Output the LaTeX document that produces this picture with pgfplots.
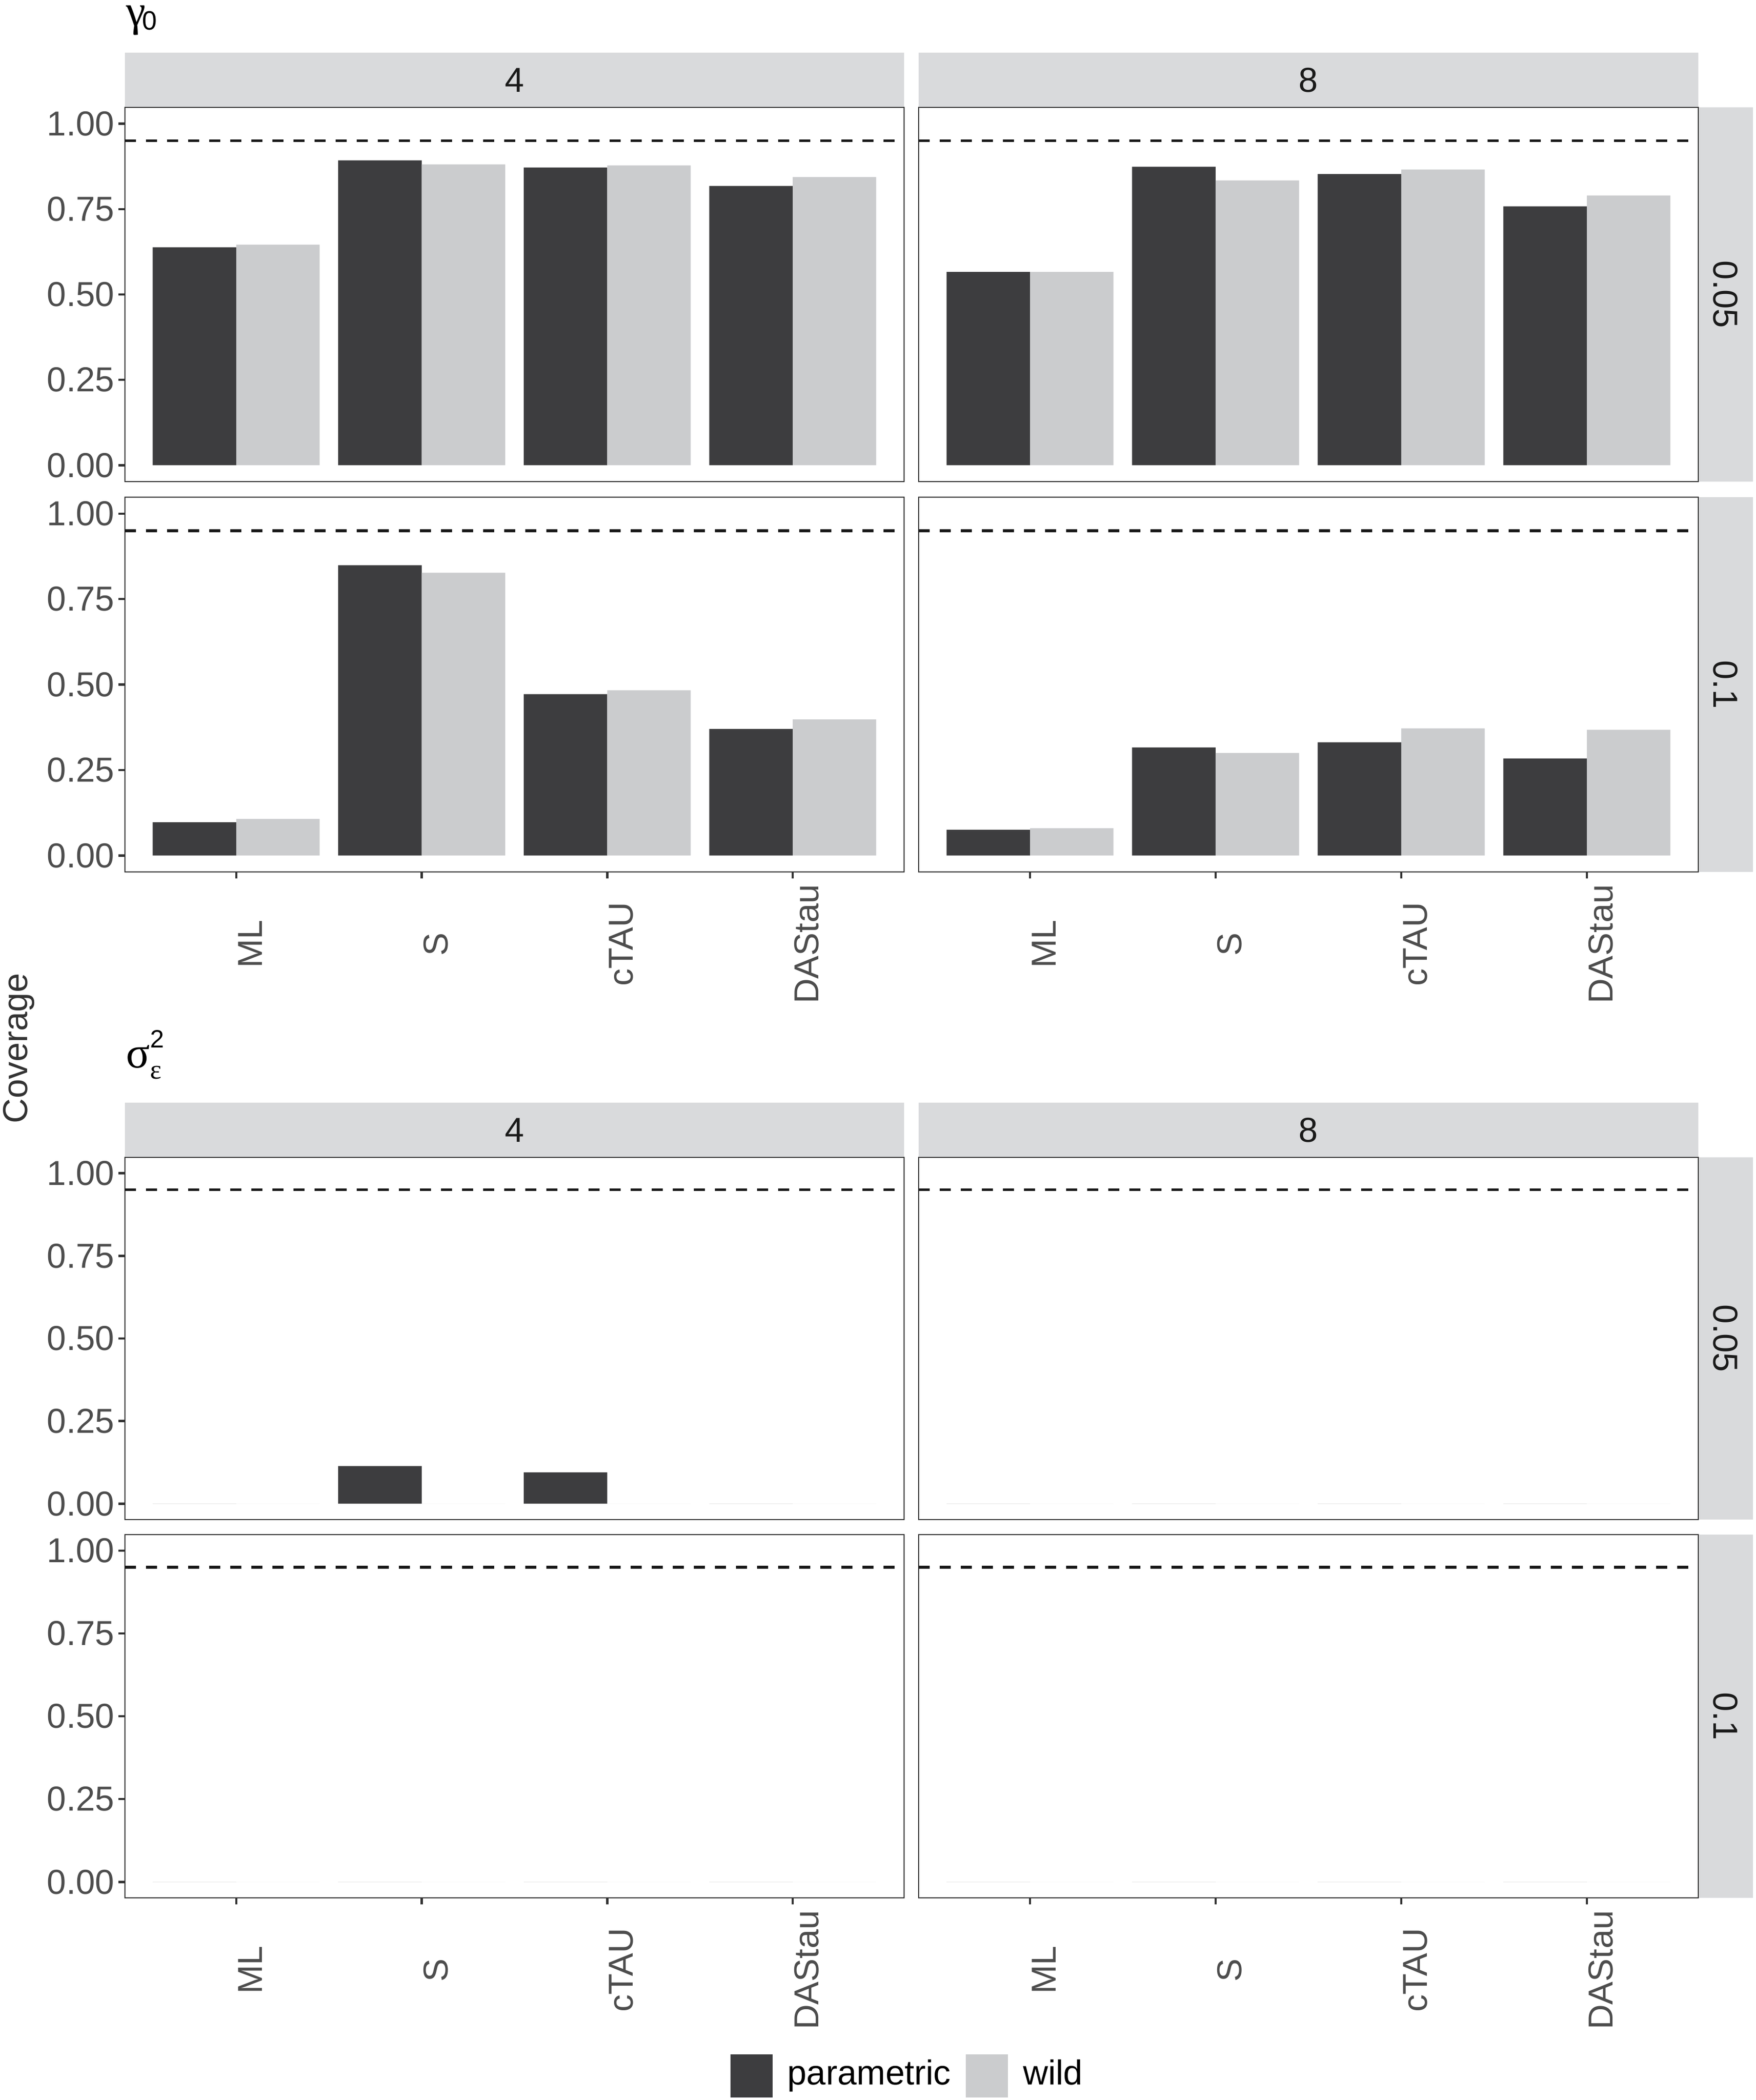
\documentclass[border=0pt]{standalone}
\usepackage{fontspec}
\setmainfont{Liberation Sans}
\newfontfamily\serifgreek{Liberation Serif}
\usepackage{pgfplots}
\pgfplotsset{compat=1.18}

\definecolor{dark}{RGB}{61,61,63}
\definecolor{light}{RGB}{203,204,206}
\definecolor{stripfill}{RGB}{217,218,220}
\definecolor{border}{RGB}{51,51,51}
\definecolor{ticklab}{RGB}{77,77,77}
\definecolor{striptext}{RGB}{26,26,26}

\newcommand\lf{\fontsize{6.9pt}{8pt}\selectfont}

\pgfplotsset{
  panel/.style={
    scale only axis, anchor=north west,
    xmin=0.4, xmax=4.6, ymin=-0.048, ymax=1.048,
    axis line style={draw=border, line width=0.25pt},
    tick align=outside, major tick length=1.3pt,
    tick style={draw=border, line width=0.45pt},
    xtick=\empty, ytick=\empty,
    clip=false,
  },
  leftcol/.style={
    ytick={0,0.25,0.5,0.75,1}, ytick pos=left,
    yticklabel style={anchor=east, inner sep=0pt, xshift=-0.6pt, font=\lf, text=ticklab},
    yticklabel={\pgfmathprintnumber[fixed,fixed zerofill,precision=2,assume math mode=true]{\tick}},
  },
  bottomrow/.style={
    xtick={1,2,3,4}, xtick pos=bottom, xticklabels={{},{},{},{}},
  },
  bars/.style={ybar, bar width=0.45, draw=none},
  refline/.style={black!90, line width=0.55pt, dash pattern=on 2.2pt off 2pt},
}
\tikzset{
  xlab/.style={font=\lf, text=ticklab, inner sep=0pt, yshift=-14.4pt, rotate=90,
    anchor=north, text height=4.95pt, text depth=0pt},
  striplab/.style={font=\lf, text=striptext, inner sep=0pt, anchor=center},
}

\begin{document}
\begin{tikzpicture}
\useasboundingbox (0,0) rectangle (350pt,-418.6pt);

% strips
\fill[stripfill] (24.9pt,-10.5pt) rectangle (180.2pt,-21.4pt);
\fill[stripfill] (183.1pt,-10.5pt) rectangle (338.5pt,-21.4pt);
\fill[stripfill] (24.9pt,-219.8pt) rectangle (180.2pt,-230.7pt);
\fill[stripfill] (183.1pt,-219.8pt) rectangle (338.5pt,-230.7pt);
\fill[stripfill] (338.6pt,-21.4pt) rectangle (349.4pt,-96.0pt);
\fill[stripfill] (338.6pt,-99.1pt) rectangle (349.4pt,-173.8pt);
\fill[stripfill] (338.6pt,-230.7pt) rectangle (349.4pt,-302.9pt);
\fill[stripfill] (338.6pt,-305.9pt) rectangle (349.4pt,-378.3pt);

\node[striplab] at (102.55pt,-15.95pt) {4};
\node[striplab] at (260.8pt,-15.95pt) {8};
\node[striplab] at (102.55pt,-225.25pt) {4};
\node[striplab] at (260.8pt,-225.25pt) {8};
\node[striplab, rotate=-90] at (343.9pt,-58.7pt) {0.05};
\node[striplab, rotate=-90] at (343.9pt,-136.45pt) {0.1};
\node[striplab, rotate=-90] at (343.9pt,-266.8pt) {0.05};
\node[striplab, rotate=-90] at (343.9pt,-342.1pt) {0.1};

% titles
\node[anchor=base west, inner sep=0pt, font=\serifgreek\fontsize{8.8pt}{10pt}\selectfont, text=black] at (24.9pt,-5.1pt) {γ};
\node[anchor=base west, inner sep=0pt, font=\fontsize{5.3pt}{6pt}\selectfont, text=black] at (28.2pt,-5.9pt) {0};
\node[anchor=base west, inner sep=0pt, font=\serifgreek\fontsize{8.8pt}{10pt}\selectfont, text=black] at (25.0pt,-212.8pt) {σ};
\node[anchor=base west, inner sep=0pt, font=\fontsize{5.0pt}{6pt}\selectfont, text=black] at (29.7pt,-208.8pt) {2};
\node[anchor=base west, inner sep=0pt, font=\serifgreek\fontsize{5.4pt}{6pt}\selectfont, text=black] at (29.7pt,-215.0pt) {ε};
\node[rotate=90, anchor=base, inner sep=0pt, font=\lf, text=black!80] at (5.4pt,-209pt) {Coverage};

% ---------- gamma_0 ----------
\begin{axis}[panel, leftcol, at={(24.9pt,-21.4pt)}, width=155.3pt, height=74.6pt]
\addplot[bars, bar shift=-0.225, fill=dark] coordinates {(1,0.638) (2,0.893) (3,0.872) (4,0.818)};
\addplot[bars, bar shift=0.225, fill=light] coordinates {(1,0.646) (2,0.881) (3,0.878) (4,0.844)};
\addplot[refline] coordinates {(0.4,0.95) (4.6,0.95)};
\end{axis}

\begin{axis}[panel, at={(183.1pt,-21.4pt)}, width=155.4pt, height=74.6pt]
\addplot[bars, bar shift=-0.225, fill=dark] coordinates {(1,0.566) (2,0.874) (3,0.853) (4,0.758)};
\addplot[bars, bar shift=0.225, fill=light] coordinates {(1,0.566) (2,0.834) (3,0.866) (4,0.790)};
\addplot[refline] coordinates {(0.4,0.95) (4.6,0.95)};
\end{axis}

\begin{axis}[panel, leftcol, bottomrow, at={(24.9pt,-99.1pt)}, width=155.3pt, height=74.7pt]
\addplot[bars, bar shift=-0.225, fill=dark] coordinates {(1,0.097) (2,0.849) (3,0.472) (4,0.370)};
\addplot[bars, bar shift=0.225, fill=light] coordinates {(1,0.107) (2,0.827) (3,0.483) (4,0.398)};
\addplot[refline] coordinates {(0.4,0.95) (4.6,0.95)};
\node[xlab] at (axis cs:1,-0.048) {ML};
\node[xlab] at (axis cs:2,-0.048) {S};
\node[xlab] at (axis cs:3,-0.048) {cTAU};
\node[xlab] at (axis cs:4,-0.048) {DAStau};
\end{axis}

\begin{axis}[panel, bottomrow, at={(183.1pt,-99.1pt)}, width=155.4pt, height=74.7pt]
\addplot[bars, bar shift=-0.225, fill=dark] coordinates {(1,0.075) (2,0.316) (3,0.331) (4,0.284)};
\addplot[bars, bar shift=0.225, fill=light] coordinates {(1,0.080) (2,0.300) (3,0.372) (4,0.368)};
\addplot[refline] coordinates {(0.4,0.95) (4.6,0.95)};
\node[xlab] at (axis cs:1,-0.048) {ML};
\node[xlab] at (axis cs:2,-0.048) {S};
\node[xlab] at (axis cs:3,-0.048) {cTAU};
\node[xlab] at (axis cs:4,-0.048) {DAStau};
\end{axis}

% ---------- sigma_eps^2 ----------
\begin{axis}[panel, leftcol, at={(24.9pt,-230.7pt)}, width=155.3pt, height=72.2pt]
\addplot[bars, bar shift=-0.225, fill=dark] coordinates {(1,0) (2,0.114) (3,0.095) (4,0)};
\addplot[bars, bar shift=0.225, fill=light] coordinates {(1,0) (2,0) (3,0) (4,0)};
\addplot[refline] coordinates {(0.4,0.95) (4.6,0.95)};
\end{axis}

\begin{axis}[panel, at={(183.1pt,-230.7pt)}, width=155.4pt, height=72.2pt]
\addplot[bars, bar shift=-0.225, fill=dark] coordinates {(1,0) (2,0) (3,0) (4,0)};
\addplot[bars, bar shift=0.225, fill=light] coordinates {(1,0) (2,0) (3,0) (4,0)};
\addplot[refline] coordinates {(0.4,0.95) (4.6,0.95)};
\end{axis}

\begin{axis}[panel, leftcol, bottomrow, at={(24.9pt,-305.9pt)}, width=155.3pt, height=72.4pt,
  legend columns=2,
  legend style={at={(1.0032,-0.4903)}, anchor=center, draw=none, fill=none,
    inner sep=0pt, column sep=3pt, font=\lf, text=black, nodes={inner sep=0pt}},
  legend cell align=left]
\addplot[bars, bar shift=-0.225, fill=dark, forget plot] coordinates {(1,0) (2,0) (3,0) (4,0)};
\addplot[bars, bar shift=0.225, fill=light, forget plot] coordinates {(1,0) (2,0) (3,0) (4,0)};
\addplot[refline, forget plot] coordinates {(0.4,0.95) (4.6,0.95)};
\addlegendimage{legend image code/.code={\fill[dark] (0pt,-4.1pt) rectangle (8pt,4.1pt);}}
\addlegendentry{parametric}
\addlegendimage{legend image code/.code={\fill[light] (0pt,-4.1pt) rectangle (8pt,4.1pt);}}
\addlegendentry{wild}
\node[xlab] at (axis cs:1,-0.048) {ML};
\node[xlab] at (axis cs:2,-0.048) {S};
\node[xlab] at (axis cs:3,-0.048) {cTAU};
\node[xlab] at (axis cs:4,-0.048) {DAStau};
\end{axis}

\begin{axis}[panel, bottomrow, at={(183.1pt,-305.9pt)}, width=155.4pt, height=72.4pt]
\addplot[bars, bar shift=-0.225, fill=dark] coordinates {(1,0) (2,0) (3,0) (4,0)};
\addplot[bars, bar shift=0.225, fill=light] coordinates {(1,0) (2,0) (3,0) (4,0)};
\addplot[refline] coordinates {(0.4,0.95) (4.6,0.95)};
\node[xlab] at (axis cs:1,-0.048) {ML};
\node[xlab] at (axis cs:2,-0.048) {S};
\node[xlab] at (axis cs:3,-0.048) {cTAU};
\node[xlab] at (axis cs:4,-0.048) {DAStau};
\end{axis}
\end{tikzpicture}
\end{document}
